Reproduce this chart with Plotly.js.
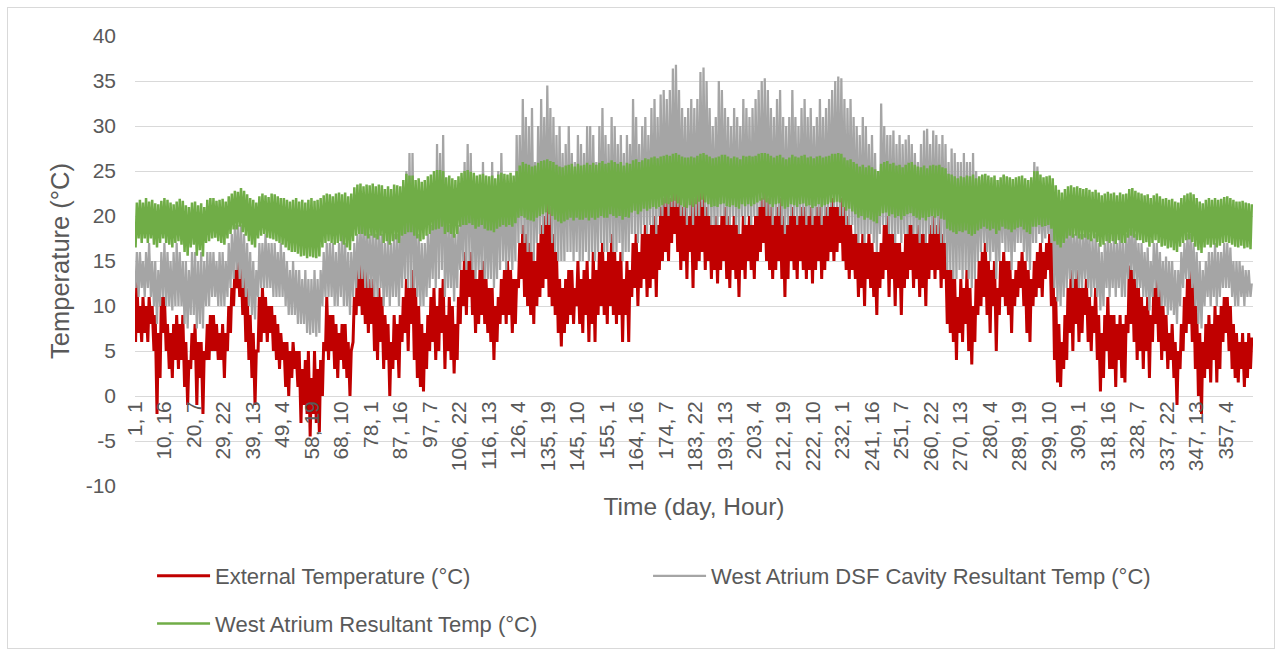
<!DOCTYPE html>
<html><head><meta charset="utf-8">
<script src="https://cdn.plot.ly/plotly-3.0.1.min.js"></script>
<style>
html,body{margin:0;padding:0;background:#fff;}
#wrap{position:relative;width:1281px;height:654px;}
#chart{width:1281px;height:654px;}
#frame{position:absolute;left:7px;top:7px;width:1266px;height:640px;border:1px solid #d9d9d9;pointer-events:none;}
</style></head><body>
<div id="wrap"><div id="chart"></div><div id="frame"></div></div>
<script>
// Category tick labels "day, hour"
const tickLabels = ["1, 1","10, 16","20, 7","29, 22","39, 13","49, 4","58, 19","68, 10","78, 1","87, 16","97, 7","106, 22","116, 13","126, 4","135, 19","145, 10","155, 1","164, 16","174, 7","183, 22","193, 13","203, 4","212, 19","222, 10","232, 1","241, 16","251, 7","260, 22","270, 13","280, 4","289, 19","299, 10","309, 1","318, 16","328, 7","337, 22","347, 13","357, 4"];
const yTickLabels = ["-10","-5","0","5","10","15","20","25","30","35","40"];

const seriesNames = ["External Temperature (°C)", "West Atrium DSF Cavity Resultant Temp (°C)", "West Atrium Resultant Temp (°C)"];

// Daily low / high values (day 1 .. 365)
const extLow = [6,7,6,7,6,8,5,-2,2,7, 5,3,2,4,3,4,1,-1,3,4, -1,2,-2,4,4,5,5,4,4,2, 5,7,10,12,11,9,6,4,2,-1, 5,6,7,6,7,5,4,3,4,1,
 0,2,3,1,-3,-1,-2,-4.5,-2,-3, -4,0,5,4,5,3,2,4,3,2, 0,6,9,10,9,8,7,8,5,4, 6,3,4,0,3,4,2,6,7,5, 8,4,2,1,0.5,3,5,6,4,5,
 7,3,5,4,2.5,4,8,10,9,11, 9,7,8,9,8,7,6,4,6,8, 9,8,9,7,8,12,13,11,10,9, 8,10,11,12,13,11,10,9,7,5.5, 7,8,9,8,10,8,7,9,6,8,
 6,9,10,9,8,10,9,8,9,6, 9,6,11,12,10,12,13,11,12,13, 11,14,15,16,15,17,18,16,14,15, 13,16,12,14,15,16,14,15,13,14, 12.5,14,15,13,12,14,13,11,14,13,
 15,14,13,15,16,17,15,14,13,14, 15,13,11,13,15,14,13,15,14,13, 14,12.5,14,15,13,14,15,16,15,16, 17,15,14,13,14,13,11,12,10,13, 12,11,9,12,13,14,11,13,10,12,
 9,12,13,14,12,13,11,12,10,13, 14,13,14,12,13,8,7,6,4,7, 6,8,5,3.5,6,9,10,11,9,7, 10,5,9,11,10,9,7,10,11,12, 10,7,6,10,11,12,11,13,14,10,
 4,1.5,1,3,4,7,5,8,6,7, 9,6,5,7,4,0.5,2,5,3,3, 1,4,2,1.5,7,8,6,4,5,3, 5,2,6,8,6,4,5,3,4,2, -1,3,5,7,8,6,3,0,-2,2,
 3,1.5,4,1.5,3,6,7,5,3,2, 1.5,3,1,2,3];
const extHigh = [13,10,11,10,11,10,9,7,11,11, 8,7,8,9,8,9,6,4,7,8, 6,6,5,8,9,9,8,7,8,7, 10,12,14,16,15,14,12,9,7,5, 11,12,11,10,10,9,8,7,6,6,
 5,6,5,5,3,4,5,2,5,3, 4,6,11,9,9,8,7,8,8,6, 5,11,14,15,15,14,13,13,11,12, 11,9,8,6,9,8,9,11,13,12, 14,12,10,8,7,9,11,12,10,12,
 13,9,11,10,8,11,14,16,15,16, 14,13,14,15,13,12,12,10,11,13, 14,15,14,13,13,17,19,18,17,16, 15,17,19,20,22,21,18,16,13,12, 13,14,14,12,15,13,14,15,13,16,
 14,16,17,15,16,18,16,15,16,13, 15,14,17,18,16,18,19,18,19,20, 19,21,22,23,22,24,24,23,21,22, 20,22,22,23,24,23,21,20,19,20, 19,20,21,20,19,20,19,18,20,19,
 20,19,20,21,22,23,22,21,20,21, 22,20,19,20,21,20,20,21,21,20, 21,20,21,21,20,21,21,22,21,21, 22,21,20,19,18,18,17,18,17,18, 17,16,16,17,19,20,18,18,17,17,
 16,18,19,19,18,19,18,18,17,19, 20,19,20,18,17,14,14,13,11,13, 12,14,12,10,13,15,16,17,15,14, 15,12,15,16,15,15,13,14,15,16, 15,14,13,15,16,17,16,17,18,17,
 11,8,6,9,12,14,13,14,12,12, 13,11,10,12,9,7,9,11,9,9, 8,9,8,9,14.5,14,13,12,11,10, 11,9,12,13,12,10,9,7,8,6, 5,8,11,13,14,13,10,7,6,8,
 9,8,10,9,10,11,11,10,8,7, 6,7,6,7,6.5];

const cavLow = [12,11,12,11,12,11,10,8,10,11, 10,10,9.5,10,10,10,8,7.5,9,9, 7.5,8,7.5,10,10,11,11,10,10,10, 11,12,13,14,13,12,11,10,9,8.5, 11,12,12,12,12,11,11,11,11,10,
 9,9,9,8,8,8,7,6.8,7,6.6, 7,10,11,11,11,10,10,11,10,10, 9,11,12,13,13,12,12,12,11,11, 12,10,11,10,11,11,10,12,13,12, 12,12,11,10,10,11,12,13,12,13,
 14,11,12,12,10.5,12,14,15,14,15, 14,13,14,14,13,13,13,12,13,14, 15,14,15,14,15,17,18,17,16,16, 15,17,18,18,19,19,17,16,15,15, 15,16,16,15,16,15,15,16,15,16,
 15,16,17,16,16,17,16,16,17,15, 16,16,18,18,17,18,19,18,19,19, 18,20,20,21,20,21,21,21,20,20, 19,20,19,20,20,21,20,20,19,19, 19,20,20,19,19,20,19,18,20,19,
 20,19,20,20,21,21,20,20,19,20, 20,19,18,19,20,20,19,20,20,19, 20,19,20,20,19,20,20,21,21,21, 20,20,19,19,19,18,17,18,17,18, 18,17,16,18,19,19,18,18,17,18,
 17,18,18,19,18,18,17,18,17,18, 18,18,18,17,17,14,14,13,13,14, 13,14,13,12,13,15,16,17,16,15, 16,13,15,17,16,16,14,16,17,17, 16,15,14,17,17,18,17,17.5,18,17,
 12,10.5,10,11,12,13,12,13,12,12, 13,12,11,12,11,9.5,10,12,11,12, 11,12,11,11,13,14,13,12,12,11, 11,9.5,11,12,11,10,10,9,9.5,9, 8,10,12,13,13,12,10,8,7.5,10,
 11,10,11,10,11,12,12,12,11,10, 10,11,10,11,11];
const cavHigh = [16,16,15,16,17,15,15,14,16,17, 16,15,16,17,16,15,15,14,16,16, 15,16,15,16,16,16,15,16,16,15, 17,18,19,19,19,18,17,16,15,14, 17,17,18,17,17,17,16,17,16,15,
 14,15,14,14,13,14,13,13,14,13, 14,16,17,17,17,16,17,18,17,16, 16,17,18,19,19,19,18,19,18,19, 18,17,18,17,18,18,19,20,25,27, 27,19,18,17,17,18,19,22,28,27,
 29,20,19,20,18,19,21,26,28,27, 24,22,21,26,22,21,26,20,25,27, 24,23,22,23,29,29,33,31,30,32, 26,30,33,31,34.5,32,31,29,30,27, 28,30,27,26,29,28,27,30,30,29,
 26,30,32,29,28,31,30,28,29,27, 29,28,33,31,28,30,31,29,32,33, 31,33.5,34,33,34,36.4,36.8,34,32,31, 32,33,32,33,36,36.5,35,32,30,31, 35,34,32,31,30,32,31,30,33,32,
 31,32,33,34,35,35.3,34,32,31,33, 34,31,30,31,34,31,30,32,33,31, 32,30,31,33,31,32,33,34,35,35.5, 35.3,33,32,33,31,30,29,31,30,28, 29,27,25,32.5,30,29,29,29.5,28,29,
 28,28.5,29,28,27,26,28,29.5,29.7,28, 29.5,29,28,29,28,26,27.5,27,26,26, 27,26,26,27,25,24,24.5,24,24,23, 24,23,24,24.5,23.5,24,23,23.5,24,24, 23.5,23,24,26,25.5,23,22,23,22,21,
 20,19,18.5,19,19,19,18,19,18,18, 19,18,17.5,18,17,16,17,18,17,18, 17,18.5,17,18,18.5,18.5,18,17,17,16, 16.5,15,17,17,16,15,15.5,15,15,14, 14,16,17,18,18,17,16,15,14,15,
 16,16,17,16,16,17,17,16.5,15,15, 15,14.5,14,14,12.5];

const atrLow = [16.5,17.5,17,17.5,17,17.5,16.8,16.5,17,17.5, 17,16.8,16.5,17,17.2,16.8,16,15.6,16.5,16.8, 15.6,16.2,15.5,17,17.2,17.5,17.6,17.2,17,16.8, 17.5,18,18.5,18.5,18.8,18.2,17.8,17.2,16.8,16.5, 17.5,17.8,18,17.6,17.5,17.4,17.2,17,16.8,16.5,
 16.2,16,16,15.8,15.5,15.6,15.3,15.5,15.4,15.3, 15.5,16.5,17,17.2,17,16.8,17,17.2,16.8,16.5, 16.2,17.2,17.8,18,18,17.8,17.5,17.8,17.6,17.4, 17.8,17,17.2,16.8,17.2,17.4,17,17.8,18,18.2, 18.2,17.8,17.5,17.2,17.4,17.8,18,18.4,18.5,18.6,
 18.8,18,18.2,18,17.6,18,18.8,19,19,19.2, 19,18.6,18.8,19,18.6,18.4,18.4,18.2,18.6,18.8, 19,18.8,19,18.8,19.2,19.8,20,19.8,19.6,19.5, 19.4,19.8,20,20.2,20.4,20.2,20,19.6,19.4,19.2, 19.4,19.6,19.8,19.5,19.8,19.6,19.6,19.8,19.5,19.8,
 19.6,19.8,20,19.8,19.8,20.2,20,19.8,20,19.6, 19.9,19.8,20.4,20.6,20.2,20.5,20.8,20.6,20.8,21, 20.8,21,21.2,21.4,21.3,21.6,21.7,21.4,21.2,21, 20.9,21.2,21,21.3,21.6,21.8,21.5,21.3,21,21.1, 21,21.3,21.4,21.1,21,21.2,21,20.8,21.3,21.1,
 21.3,21.1,21.3,21.5,21.7,21.8,21.5,21.3,21,21.3, 21.4,21.1,20.8,21,21.3,21.2,21,21.3,21.4,21.1, 21.2,20.9,21.1,21.3,21,21.2,21.3,21.5,21.5,21.6, 21.5,21,20.6,20.8,20.5,20.2,19.8,20,19.6,19.8, 19.6,19.4,19.2,20,20.3,20.4,20,20.2,19.8,20,
 19.6,20,20.2,20.3,20,19.8,19.6,19.8,19.5,19.9, 20,19.8,20,19.7,19.6,18.6,18.4,18.2,18,18.3, 18.2,18.4,18,17.8,18,18.4,18.6,18.8,18.6,18.4, 18.6,18,18.4,18.8,18.6,18.5,18.2,18.5,18.7,18.8, 18.5,18.2,18,18.8,18.8,19,18.8,18.9,19,18.6,
 17.2,16.8,16.5,17,17.5,17.8,17.6,17.8,17.5,17.4, 17.6,17.4,17.2,17.5,17.1,16.6,16.8,17.2,17,17.2, 16.9,17.3,17,17,17.6,17.8,17.6,17.3,17.3,17, 17.1,16.6,17,17.3,17,16.6,16.7,16.4,16.5,16.2, 16,16.6,17,17.3,17.4,17.1,16.6,16.2,15.9,16.5,
 16.8,16.5,16.8,16.5,16.7,17,17.1,17,16.8,16.6, 16.5,16.7,16.4,16.5,16.3];
const atrHigh = [21.5,21.8,21.5,22,21.6,21.8,21.4,21.3,21.7,22, 21.8,21.5,21.3,21.6,21.9,21.7,21.2,21,21.5,21.6, 21.2,21.4,21,21.8,22,22,21.7,21.8,21.9,21.6, 22.2,22.5,22.8,22.7,23.1,22.8,22.4,22,21.8,21.5, 22.2,22.5,22.3,22.1,22.5,22.4,22.2,22,22,21.8,
 21.6,21.8,22,21.6,21.8,21.5,21.8,22,21.7,21.8, 22,22.3,22.5,22.4,22.2,22.5,22.6,22.4,22.6,22.2, 22.5,23.2,23.5,23.6,23.3,23.5,23.4,23.6,23.3,23.5, 23.4,23,23.3,23,23.5,23.4,23.3,24,24.7,24.5, 24.5,24,24.2,23.8,24,24.4,24.6,25,25.1,25.1,
 25,24.3,24.5,24.2,24,24.4,24.8,25,25.1,24.9, 24.8,24.5,24.6,24.7,24.5,24.4,24.5,24.2,24.6,24.8, 24.7,24.6,24.8,24.5,25,25.6,26,25.8,25.7,25.5, 25.6,25.9,26.1,26.2,26.3,26.1,26,25.7,25.5,25.4, 25.6,25.7,25.8,25.5,25.8,25.6,25.7,25.9,25.7,25.9,
 25.7,25.9,26.1,25.8,25.9,26.2,26,25.8,26,25.6, 25.9,25.8,26.2,26.3,26,26.2,26.4,26.3,26.5,26.6, 26.4,26.6,26.7,26.8,26.7,26.9,27,26.8,26.6,26.5, 26.5,26.6,26.5,26.7,26.9,27,26.8,26.6,26.4,26.5, 26.6,26.8,26.8,26.6,26.4,26.6,26.5,26.3,26.7,26.6,
 26.7,26.6,26.7,26.9,27,27,26.9,26.7,26.5,26.7, 26.8,26.5,26.3,26.5,26.8,26.6,26.5,26.7,26.8,26.5, 26.6,26.4,26.6,26.7,26.5,26.6,26.7,26.9,26.9,27, 26.9,26.5,26.2,26.3,26,25.8,25.5,25.7,25.4,25.6, 25.4,25.2,25,25.8,26,26.1,25.8,25.9,25.6,25.7,
 25.4,25.7,25.9,26,25.7,25.5,25.4,25.6,25.3,25.6, 25.7,25.6,25.7,25.4,25.3,24.7,24.6,24.4,24.2,24.4, 24.3,24.5,24.4,24.6,24.2,24.4,24.6,24.7,24.5,24.3, 24.5,24,24.3,24.6,24.4,24.3,24.1,24.3,24.4,24.5, 24.2,24,24.3,25,25,24.6,24.3,24.4,24.5,24.2,
 23.4,22.9,22.6,23,23.3,23.4,23.2,23.3,23.1,23, 23.1,22.9,22.7,22.9,22.6,22.3,22.5,22.7,22.5,22.6, 22.3,22.6,22.4,22.5,23,23.1,22.8,22.6,22.5,22.3, 22.4,22,22.3,22.5,22.2,21.9,22,21.8,21.9,21.6, 21.5,22,22.3,22.5,22.6,22.4,22,21.6,21.4,21.8,
 22,21.8,22,21.8,21.9,22.1,22.2,22,21.8,21.6, 21.6,21.7,21.5,21.4,21.3];

// hour of day at which the daily low / high is placed
const lowHour = 4, highHour = 14;

function hourIndex(label){ const p = label.split(","); return (parseInt(p[0])-1)*24 + parseInt(p[1]) - 1; }
function dailySeries(low, high){
  const x = [], y = [];
  for (let d = 0; d < low.length; d++){
    x.push(d*24 + lowHour); y.push(low[d]);
    x.push(d*24 + highHour); y.push(high[d]);
  }
  return {x, y};
}

const ext = dailySeries(extLow, extHigh);
const cav = dailySeries(cavLow, cavHigh);
const atr = dailySeries(atrLow, atrHigh);

const FONT = 'Liberation Sans, Arial, sans-serif';
const TXT = '#595959';

const traces = [
  {type:'scatter', mode:'lines', name:seriesNames[0], x:ext.x, y:ext.y, line:{color:'#C00000', width:3}, legend:'legend', legendwidth:428},
  {type:'scatter', mode:'lines', name:seriesNames[1], x:cav.x, y:cav.y, line:{color:'#A5A5A5', width:2.25}, legend:'legend', legendwidth:470},
  {type:'scatter', mode:'lines', name:seriesNames[2], x:atr.x, y:atr.y, line:{color:'#70AD47', width:2.5}, legend:'legend2'}
];

const layout = {
  width:1281, height:654,
  margin:{l:135, r:28, t:36, b:168, autoexpand:false},
  paper_bgcolor:'rgba(0,0,0,0)', plot_bgcolor:'rgba(0,0,0,0)',
  font:{family:FONT, size:21, color:TXT},
  showlegend:true,
  xaxis:{
    range:[-0.5, 8759.5], anchor:'free', position:0.2,
    tickmode:'array', tickvals:tickLabels.map(hourIndex), ticktext:tickLabels,
    tickangle:-90, showgrid:false, zeroline:false, showline:false, ticks:'',
    tickfont:{family:FONT, size:21, color:TXT},
    title:{text:'Time (day, Hour)', font:{family:FONT, size:24.5, color:TXT}, standoff:27}
  },
  yaxis:{
    range:[-10, 40], tickmode:'array', tickvals:yTickLabels.map(Number), ticktext:yTickLabels,
    gridcolor:'#D9D9D9', gridwidth:1,
    zeroline:false, showline:false, ticks:'', ticklabelstandoff:18,
    tickfont:{family:FONT, size:21, color:TXT},
    title:{text:'Temperature (°C)', font:{family:FONT, size:25.5, color:TXT}, standoff:8}
  },
  legend:{orientation:'h', xref:'container', yref:'container', x:0.1187, y:0.1514, xanchor:'left', yanchor:'top', itemwidth:53,
          entrywidthmode:'pixels', font:{family:FONT, size:22, color:TXT}, bgcolor:'rgba(0,0,0,0)'},
  legend2:{orientation:'h', xref:'container', yref:'container', x:0.1187, y:0.0786, xanchor:'left', yanchor:'top', itemwidth:53,
          font:{family:FONT, size:22, color:TXT}, bgcolor:'rgba(0,0,0,0)'}
};

Plotly.newPlot('chart', traces, layout, {staticPlot:true, displayModeBar:false});
</script>
</body></html>
